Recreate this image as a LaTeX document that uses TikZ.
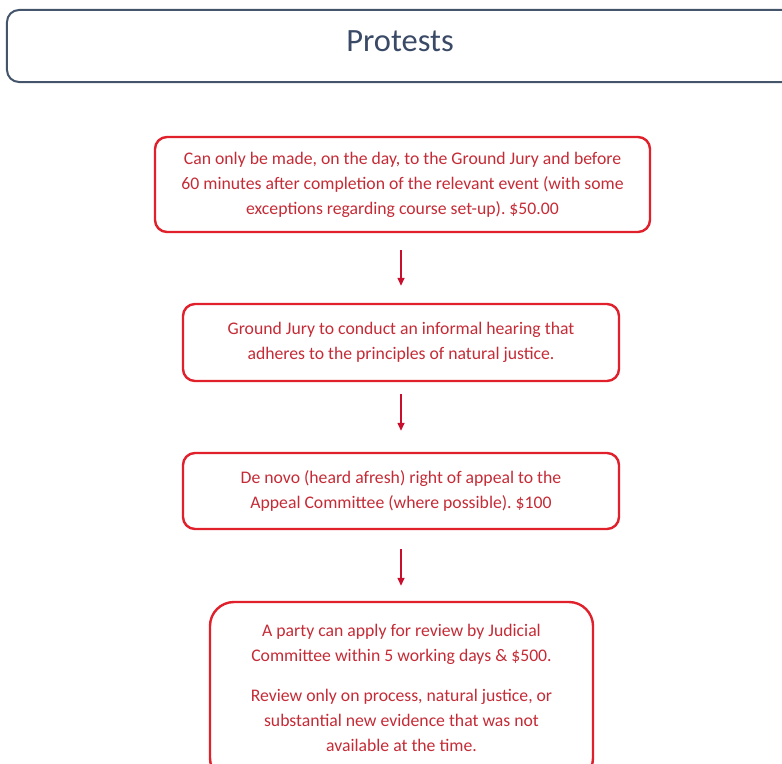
\documentclass[tikz,border=0pt]{standalone}
\usepackage{fontspec}
\setmainfont{Carlito}
\frenchspacing
\usetikzlibrary{arrows.meta}
\definecolor{boxred}{HTML}{E0202B}
\definecolor{txtred}{HTML}{C42B36}
\definecolor{arrred}{HTML}{C8102E}
\definecolor{slate}{HTML}{44546A}
\definecolor{titletxt}{HTML}{3A4A66}
\tikzset{
  stepbox/.style={draw=boxred, line width=2.4bp, rounded corners=12bp, align=center,
    text=txtred, font=\fontsize{17.7bp}{25bp}\selectfont, inner sep=0pt},
  steptext/.style={text=txtred, align=center, font=\fontsize{17.7bp}{25bp}\selectfont, inner sep=0pt},
  titlebox/.style={draw=slate, line width=2bp, rounded corners=12bp, inner sep=0pt},
  titletext/.style={text=titletxt, font=\fontsize{32.5bp}{36bp}\selectfont, inner sep=0pt},
  arr/.style={draw=arrred, line width=1.4bp, -{Triangle[length=8bp,width=7bp]}}
}
\begin{document}
\begin{tikzpicture}[x=1bp,y=-1bp]
\useasboundingbox (0,0) rectangle (782,764);
\node[titlebox, minimum width=790bp, minimum height=72bp] (title) at (402,46) {};
\node[titletext] (titlet) at (400,41) {Protests};
\node[stepbox, minimum width=495bp, minimum height=95bp] (b1) at (402.5,184.5)
  {Can only be made, on the day, to the Ground Jury and before\\
   60 minutes after completion of the relevant event (with some\\
   exceptions regarding course set-up). \$50.00};
\node[stepbox, minimum width=436bp, minimum height=77bp] (b2) at (401,342.5)
  {Ground Jury to conduct an informal hearing that\\
   adheres to the principles of natural justice.};
\node[stepbox, minimum width=436bp, minimum height=76bp] (b3) at (401,491)
  {De novo (heard afresh) right of appeal to the\\
   Appeal Committee (where possible). \$100};
\node[stepbox, rounded corners=24bp, minimum width=383bp, minimum height=180bp] (b4) at (401.5,692) {};
\node[steptext, anchor=north] (b4t) at (401.5,624)
  {A party can apply for review by Judicial\\
   Committee within 5 working days \& \$500.\\[15bp]
   Review only on process, natural justice, or\\
   substantial new evidence that was not\\
   available at the time.};
\draw[arr, shorten <=17bp, shorten >=17bp] (b1.south -| b2.north) -- (b2.north);
\draw[arr, shorten <=12bp, shorten >=21bp] (b2.south) -- (b3.north);
\draw[arr, shorten <=19bp, shorten >=15bp] (b3.south) -- (b4.north -| b3.south);
\end{tikzpicture}
\end{document}
